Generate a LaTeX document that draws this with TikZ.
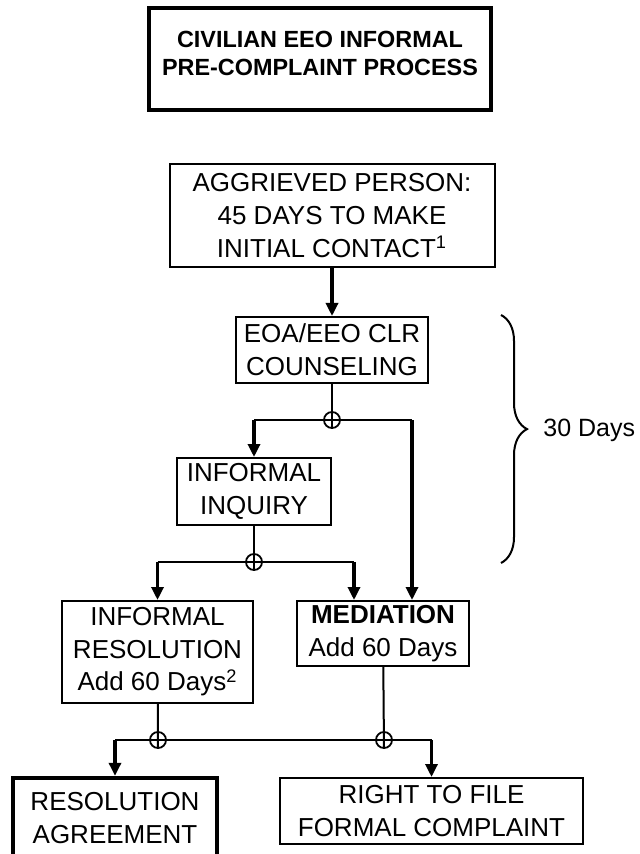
\documentclass[tikz,border=0pt]{standalone}
\usepackage{fontspec}
\setmainfont{Liberation Sans}
\usetikzlibrary{positioning, arrows.meta, decorations.pathreplacing}

\begin{document}
\begin{tikzpicture}[
  x=0.5pt, y=-0.5pt,
  boxstyle/.style={
        draw,
        rectangle,
        line width=1pt,
        align=center,
        inner sep=0pt,
        font=\fontsize{13}{16.3}\selectfont
  },
  junctionstyle/.style={
        draw,
        circle,
        line width=0.9pt,
        minimum size=8pt,
        inner sep=0pt
  },
  linkstyle/.style={line width=1pt},
  arrowstyle/.style={line width=1.6pt, -{Triangle[length=6.5pt, width=6pt]}}
]

    \useasboundingbox (0,0) rectangle (640,854);

    \node[boxstyle, line width=2.2pt, minimum width=171pt, minimum height=51pt, text depth=6pt,
          font=\bfseries\fontsize{11.7}{14}\selectfont] (Title) at (320,59)
          {CIVILIAN EEO INFORMAL\\PRE-COMPLAINT PROCESS};

    \node[boxstyle, minimum width=162.5pt, minimum height=51.5pt] (Aggrieved) at (332,215.5)
          {AGGRIEVED PERSON:\\45 DAYS TO MAKE\\INITIAL CONTACT\textsuperscript{1}};
    \node[boxstyle, minimum width=96pt, minimum height=33pt] (EOA) at (332,350)
          {EOA/EEO CLR\\COUNSELING};
    \node[boxstyle, minimum width=77pt, minimum height=33.5pt] (Inquiry) at (254,491.5)
          {INFORMAL\\INQUIRY};
    \node[boxstyle, minimum width=95.5pt, minimum height=51pt] (Resolution) at (157.5,652)
          {INFORMAL\\RESOLUTION\\Add 60 Days\textsuperscript{2}};
    \node[boxstyle, minimum width=86pt, minimum height=32.5pt] (Mediation) at (383,633.5)
          {\textbf{MEDIATION}\\Add 60 Days};
    \node[boxstyle, line width=2.2pt, minimum width=102pt, minimum height=40pt] (Agreement) at (115,818)
          {RESOLUTION\\AGREEMENT};
    \node[boxstyle, minimum width=151.5pt, minimum height=33pt] (Formal) at (431.5,811)
          {RIGHT TO FILE\\FORMAL COMPLAINT};

    \node[junctionstyle] (J_1) at (332,420) {};
    \node[junctionstyle] (J_2) at (254,562) {};
    \node[junctionstyle] (J_3) at (158,740) {};
    \node[junctionstyle] (J_4) at (384,740) {};

    \coordinate (M_l) at ([xshift=-14.5pt]Mediation.north);
    \coordinate (M_r) at ([xshift=14.5pt]Mediation.north);

    \draw[arrowstyle] (Aggrieved) -- (EOA);

    \draw[linkstyle] (EOA) -- (J_1.south);
    \draw[linkstyle] (Inquiry.north |- J_1) -- (M_r |- J_1);
    \draw[arrowstyle] (Inquiry.north |- J_1) -- (Inquiry.north);
    \draw[arrowstyle] (M_r |- J_1) -- (M_r);

    \draw[linkstyle] (Inquiry) -- (J_2.south);
    \draw[linkstyle] (Resolution.north |- J_2) -- (M_l |- J_2);
    \draw[arrowstyle] (Resolution.north |- J_2) -- (Resolution.north);
    \draw[arrowstyle] (M_l |- J_2) -- (M_l);

    \draw[linkstyle] (Resolution) -- (J_3.south);
    \draw[linkstyle] (Mediation) -- (J_4.south);
    \draw[linkstyle] (Agreement.north |- J_3) -- (Formal.north |- J_4);
    \draw[arrowstyle] (Agreement.north |- J_3) -- (Agreement.north);
    \draw[arrowstyle] (Formal.north |- J_4) -- (Formal.north);

    % 30 day bracket
    \coordinate (B_top) at (501,315);
    \coordinate (B_bot) at (501,563);
    \draw[linkstyle, decorate, decoration={brace, amplitude=13pt, aspect=0.46}] (B_top) -- (B_bot);
    \node[anchor=west, inner sep=0pt, font=\fontsize{12.5}{14}\selectfont] (Days) at (543,430) {30 Days};
\end{tikzpicture}
\end{document}
